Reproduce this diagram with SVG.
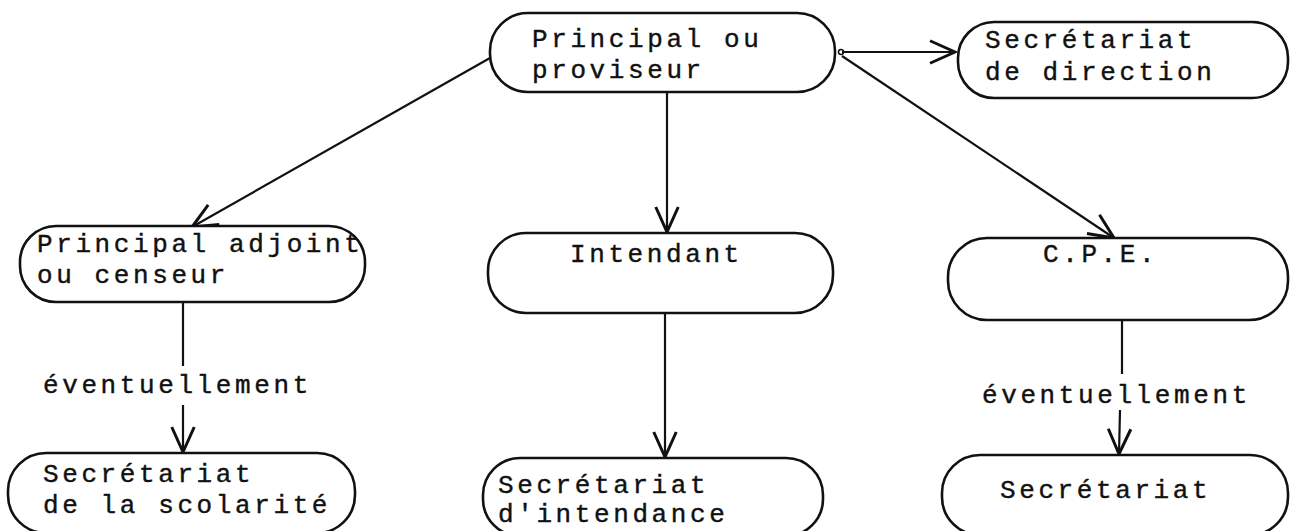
<svg xmlns="http://www.w3.org/2000/svg" width="1292" height="531" viewBox="0 0 1292 531">
<style>
.node{fill:#fff;stroke:#111;stroke-width:2.6}
.t{font-family:"Liberation Mono","Courier New",monospace;font-size:26px;fill:#111;stroke:#111;stroke-width:0.4;letter-spacing:3.6px}
.c{fill:none;stroke:#111;stroke-width:2.2}
</style>
<defs>
<marker id="ah" markerUnits="userSpaceOnUse" markerWidth="30" markerHeight="30" refX="0" refY="0" viewBox="-22 -12 24 24" orient="auto">
<path d="M-20,-9 L0,0 L-20,9" fill="none" stroke="#111" stroke-width="2.4"/>
</marker>
</defs>
<rect width="1292" height="531" fill="#fff"/>
<g id="connectors">
<line class="c" x1="842" y1="52" x2="955" y2="52" marker-end="url(#ah)"/>
<circle cx="841" cy="52" r="2.5" fill="none" stroke="#111" stroke-width="1.5"/>
<line class="c" x1="490" y1="58" x2="192" y2="227" marker-end="url(#ah)"/>
<line class="c" x1="667" y1="92" x2="667" y2="232" marker-end="url(#ah)"/>
<line class="c" x1="842" y1="56" x2="1114" y2="238" marker-end="url(#ah)"/>
<line class="c" x1="183" y1="302" x2="183" y2="366"/>
<line class="c" x1="183" y1="405" x2="183" y2="452" marker-end="url(#ah)"/>
<line class="c" x1="665" y1="314" x2="665" y2="457" marker-end="url(#ah)"/>
<line class="c" x1="1122" y1="320" x2="1122" y2="374"/>
<line class="c" x1="1120" y1="410" x2="1119" y2="454" marker-end="url(#ah)"/>
</g>
<g id="n-principal">
<rect class="node" x="490" y="13" width="345" height="79" rx="38"/>
<text class="t" x="532" y="47">Principal ou</text>
<text class="t" x="532" y="78">proviseur</text>
</g>
<g id="n-direction">
<rect class="node" x="958" y="22" width="330" height="76" rx="36"/>
<text class="t" x="985" y="48">Secrétariat</text>
<text class="t" x="985" y="80">de direction</text>
</g>
<g id="n-adjoint">
<rect class="node" x="20" y="226" width="345" height="76" rx="36"/>
<text class="t" x="37" y="252">Principal adjoint</text>
<text class="t" x="37" y="283">ou censeur</text>
</g>
<g id="n-intendant">
<rect class="node" x="488" y="233" width="345" height="80" rx="38"/>
<text class="t" x="570" y="262">Intendant</text>
</g>
<g id="n-cpe">
<rect class="node" x="948" y="238" width="340" height="82" rx="39"/>
<text class="t" x="1043" y="262">C.P.E.</text>
</g>
<g id="label-left">
<text class="t" x="43" y="393">éventuellement</text>
</g>
<g id="label-right">
<text class="t" x="982" y="403">éventuellement</text>
</g>
<g id="n-scolarite">
<rect class="node" x="8" y="453" width="347" height="80" rx="38"/>
<text class="t" x="43" y="482">Secrétariat</text>
<text class="t" x="43" y="513">de la scolarité</text>
</g>
<g id="n-intendance">
<rect class="node" x="483" y="458" width="340" height="78" rx="37"/>
<text class="t" x="498" y="493">Secrétariat</text>
<text class="t" x="498" y="522">d'intendance</text>
</g>
<g id="n-secretariat">
<rect class="node" x="942" y="455" width="346" height="80" rx="38"/>
<text class="t" x="1000" y="498">Secrétariat</text>
</g>
</svg>
